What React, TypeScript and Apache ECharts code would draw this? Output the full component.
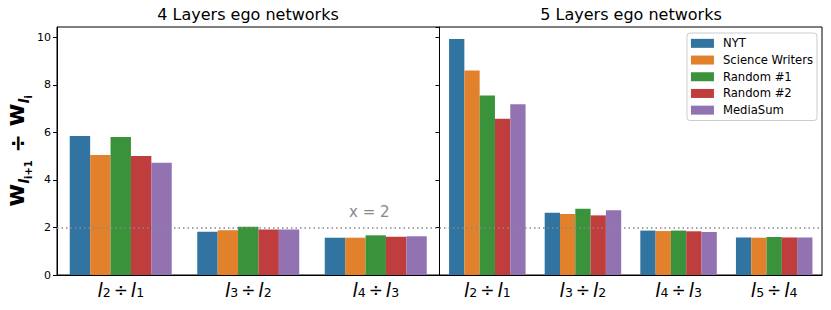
import React, { useEffect, useRef } from "react";
import * as echarts from "echarts";

const seriesNames = ["NYT", "Science Writers", "Random #1", "Random #2", "MediaSum"];
const colors = ["#3274a1", "#e1812c", "#3a923a", "#c03d3e", "#9372b2"];

const cats4 = ["{i|l}{s|2}{d|÷}{i|l}{s|1}", "{i|l}{s|3}{d|÷}{i|l}{s|2}", "{i|l}{s|4}{d|÷}{i|l}{s|3}"];
const cats5 = ["{i|l}{s|2}{d|÷}{i|l}{s|1}", "{i|l}{s|3}{d|÷}{i|l}{s|2}", "{i|l}{s|4}{d|÷}{i|l}{s|3}", "{i|l}{s|5}{d|÷}{i|l}{s|4}"];

// values per series (NYT, Science Writers, Random #1, Random #2, MediaSum)
const layers4 = [
  [5.85, 1.82, 1.57],
  [5.05, 1.88, 1.57],
  [5.81, 2.03, 1.67],
  [5.01, 1.92, 1.61],
  [4.73, 1.92, 1.63],
];
const layers5 = [
  [9.94, 2.62, 1.87, 1.58],
  [8.61, 2.57, 1.85, 1.57],
  [7.56, 2.79, 1.87, 1.60],
  [6.58, 2.51, 1.84, 1.58],
  [7.19, 2.73, 1.81, 1.58],
];
const yTicks = [0, 2, 4, 6, 8, 10];
const threshold = 2;
const yMax = 10.44;

const FONT = "DejaVu Sans";

export default function App() {
  const ref = useRef<HTMLDivElement>(null);
  useEffect(() => {
    if (!ref.current) return;
    const chart = echarts.init(ref.current, null, { renderer: "svg" });
    const xLabel = {
      color: "#000",
      fontFamily: FONT,
      fontSize: 18,
      margin: 6,
      interval: 0,
      lineHeight: 18,
      rich: {
        i: { fontStyle: "italic", fontSize: 19, fontFamily: FONT, color: "#000", lineHeight: 18 },
        s: { fontSize: 12.5, fontFamily: FONT, color: "#000", lineHeight: 18, verticalAlign: "bottom" },
        d: { fontSize: 17, fontFamily: FONT, color: "#000", lineHeight: 18, padding: [0, 3, 0, 3] },
      },
    };
    const yAxisBase = {
      type: "value",
      min: 0,
      max: yMax,
      interval: 2,
      splitLine: { show: false },
      axisLine: { show: true, lineStyle: { color: "#000", width: 1 } },
      axisTick: { show: true, length: 4, lineStyle: { color: "#000" } },
    };
    const mkSeries = (data: number[][], idx: number) =>
      data.map((vals, i) => ({
        type: "bar",
        name: seriesNames[i],
        xAxisIndex: idx,
        yAxisIndex: idx,
        data: vals,
        barGap: "0%",
        barCategoryGap: "20%",
        itemStyle: { color: colors[i] },
        markLine:
          i === 0
            ? {
                silent: true,
                symbol: "none",
                label: { show: false },
                lineStyle: { type: [1.5, 3], color: "#888", width: 1.5 },
                data: [{ yAxis: threshold }],
              }
            : undefined,
        z: 2,
      }));
    const titleStyle = { fontFamily: FONT, fontSize: 16, fontWeight: "normal", color: "#000" };
    chart.setOption({
      animation: false,
      textStyle: { fontFamily: FONT },
      title: [
        { text: "4 Layers ego networks", left: 248, top: 6, padding: 0, textAlign: "center", textStyle: titleStyle },
        { text: "5 Layers ego networks", left: 631, top: 6, padding: 0, textAlign: "center", textStyle: titleStyle },
      ],
      legend: {
        data: seriesNames,
        orient: "vertical",
        right: 14,
        top: 33,
        itemWidth: 23,
        itemHeight: 9,
        itemGap: 4,
        icon: "rect",
        backgroundColor: "#fff",
        borderColor: "#ccc",
        borderWidth: 1,
        borderRadius: 3,
        padding: [4, 4, 4, 4],
        textStyle: { fontFamily: FONT, fontSize: 11.6, color: "#000", lineHeight: 12.7, padding: [0, 0, 0, 4] },
      },
      grid: [
        { left: 57, right: 391.5, top: 27, bottom: 35, show: true, borderColor: "#000", borderWidth: 1, backgroundColor: "transparent" },
        { left: 439.5, right: 9, top: 27, bottom: 35, show: true, borderColor: "#000", borderWidth: 1, backgroundColor: "transparent" },
      ],
      xAxis: [
        { type: "category", gridIndex: 0, data: cats4, axisLabel: xLabel,
          axisLine: { lineStyle: { color: "#000" } },
          axisTick: { alignWithLabel: true, length: 4, lineStyle: { color: "#000" } } },
        { type: "category", gridIndex: 1, data: cats5, axisLabel: xLabel,
          axisLine: { lineStyle: { color: "#000" } },
          axisTick: { alignWithLabel: true, length: 4, lineStyle: { color: "#000" } } },
      ],
      yAxis: [
        {
          ...yAxisBase,
          gridIndex: 0,
          name: "{w|w}{l|l}{ss|i+1}{d| ÷ }{w|w}{l|l}{ss|i}",
          nameLocation: "middle",
          nameGap: 28,
          nameRotate: 90,
          nameTextStyle: {
            fontFamily: FONT, fontSize: 22, fontWeight: "bold", color: "#000",
            rich: {
              w: { fontFamily: FONT, fontSize: 25, fontWeight: "bold", color: "#000", lineHeight: 28, verticalAlign: "bottom" },
              l: { fontFamily: FONT, fontSize: 14, fontStyle: "italic", fontWeight: "bold", color: "#000", lineHeight: 28, verticalAlign: "bottom", padding: [0, 0, -3, 0] },
              ss: { fontFamily: FONT, fontSize: 10, fontWeight: "bold", color: "#000", lineHeight: 28, verticalAlign: "bottom", padding: [0, 0, -5, 0] },
              d: { fontFamily: FONT, fontSize: 22, fontWeight: "bold", color: "#000", lineHeight: 28, verticalAlign: "bottom" },
            },
          },
          axisLabel: {
            color: "#000", fontFamily: FONT, fontSize: 11, margin: 6,
            showMaxLabel: false,
            formatter: (v: number) => (yTicks.includes(v) ? String(v) : ""),
          },
        },
        {
          ...yAxisBase,
          gridIndex: 1,
          axisLabel: { show: false },
        },
      ],
      graphic: [
        { type: "text", left: 349, top: 204,
          style: { text: "x = 2", fontFamily: FONT, fontSize: 15, fill: "#888" } },
      ],
      series: [...mkSeries(layers4, 0), ...mkSeries(layers5, 1)],
    });
    return () => chart.dispose();
  }, []);
  return <div ref={ref} style={{ width: 831, height: 310, margin: -8 }} />;
}
